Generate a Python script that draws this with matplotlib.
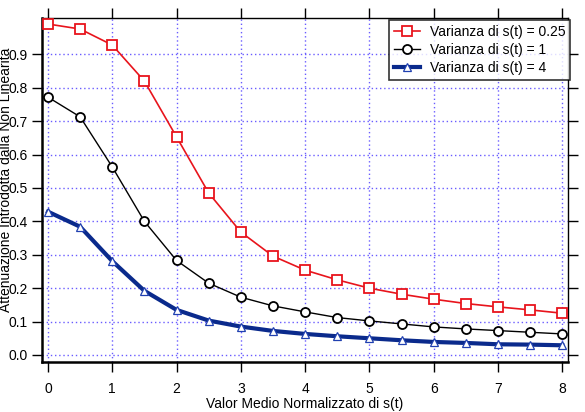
import numpy as np
import matplotlib
matplotlib.use('Agg')
import matplotlib.pyplot as plt

plt.rcParams['font.family'] = ['Liberation Sans', 'DejaVu Sans']

# valori
x_vals = [0, 0.5, 1, 1.5, 2, 2.5, 3, 3.5, 4, 4.5, 5, 5.5, 6, 6.5, 7, 7.5, 8]
var_025 = [0.991, 0.976, 0.928, 0.820, 0.653, 0.485, 0.368, 0.296, 0.254,
           0.225, 0.200, 0.182, 0.167, 0.154, 0.144, 0.135, 0.125]
var_1 = [0.772, 0.713, 0.563, 0.400, 0.283, 0.215, 0.173, 0.147, 0.129,
         0.112, 0.102, 0.093, 0.084, 0.078, 0.073, 0.068, 0.063]
var_4 = [0.429, 0.384, 0.281, 0.192, 0.135, 0.103, 0.085, 0.072, 0.063,
         0.056, 0.050, 0.044, 0.039, 0.036, 0.032, 0.031, 0.029]
labels = ['Varianza di s(t) = 0.25', 'Varianza di s(t) = 1', 'Varianza di s(t) = 4']

FS = 10

fig = plt.figure(figsize=(5.85, 4.12), dpi=100)
ax = fig.add_axes([0.0718, 0.1214, 0.8992, 0.8349])

ax.plot(x_vals, var_025, color='#e8141c', lw=1.2, marker='s', ms=6.5,
        mfc='white', mec='#e8141c', mew=1.3, label=labels[0], zorder=4)
ax.plot(x_vals, var_1, color='black', lw=1.0, marker='o', ms=6.5,
        mfc='white', mec='black', mew=1.3, label=labels[1], zorder=4)
ax.plot(x_vals, var_4, color='#0a2a8c', lw=3.0, marker='^', ms=6,
        mfc='white', mec='#2040b0', mew=0.9, label=labels[2], zorder=4)

ax.set_xlim(-0.093, 8.09)
ax.set_ylim(-0.021, 1.009)
ax.set_xticks(range(0, 9))
ax.set_yticks(np.arange(0, 1.0, 0.1))
ax.set_yticklabels([f'{v:.1f}' for v in np.arange(0, 1.0, 0.1)])

ax.grid(True, color='#6a5cff', linestyle=(0, (1, 2)), lw=1.0)
ax.tick_params(direction='out', length=7.5, width=1, labelsize=FS,
               top=True, right=True, labeltop=False, labelright=False)
ax.tick_params(axis='x', pad=7)
ax.tick_params(axis='y', pad=3)
for side in ['left', 'bottom']:
    ax.spines[side].set_linewidth(1.8)
for side in ['top', 'right']:
    ax.spines[side].set_linewidth(1.0)

ax.set_xlabel('Valor Medio Normalizzato di s(t)', fontsize=FS)
ax.xaxis.set_label_coords(0.5, -0.102)
ax.set_ylabel('Attenuazione Introdotta dalla Non Linearita', fontsize=FS)
ax.yaxis.set_label_coords(-0.056, 0.53)

leg = ax.legend(loc='upper right', bbox_to_anchor=(1.004, 0.994), fontsize=FS,
                frameon=True, fancybox=False, edgecolor='black',
                borderpad=0.35, labelspacing=0.3, handlelength=1.9,
                handletextpad=0.7, borderaxespad=0.0)
leg.get_frame().set_linewidth(1.2)
leg.set_zorder(10)

fig.savefig('out.png', dpi=100)
